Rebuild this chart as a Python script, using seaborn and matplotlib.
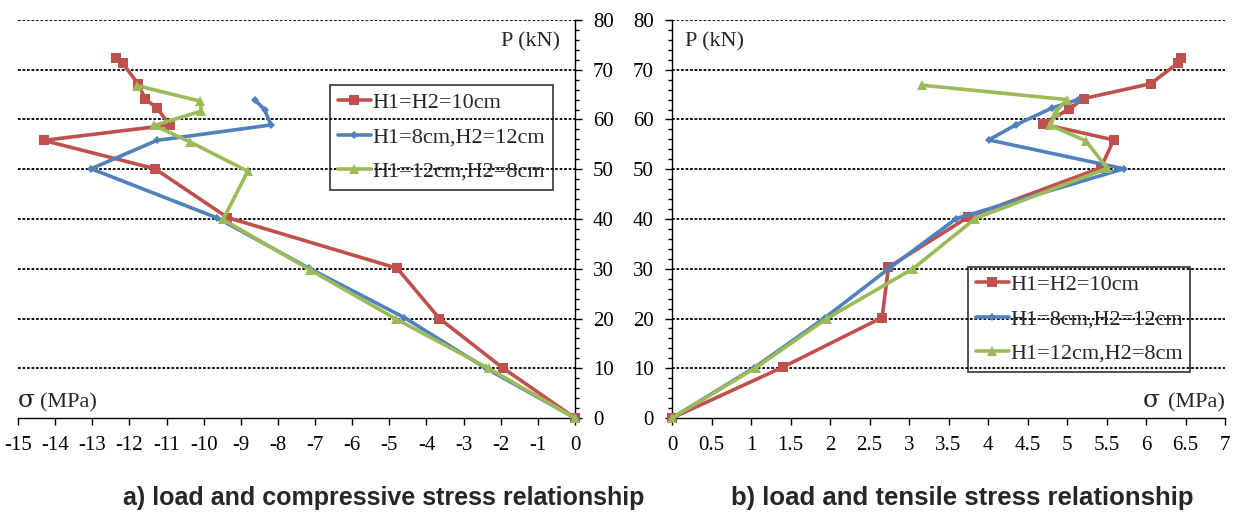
import numpy as np
import pandas as pd
import matplotlib
matplotlib.use("Agg")
import matplotlib.pyplot as plt
import seaborn as sns
from matplotlib.ticker import MultipleLocator, FormatStrFormatter

# ============================================
# DATA
# ============================================
labels = ["H1=H2=10cm", "H1=8cm,H2=12cm", "H1=12cm,H2=8cm"]

# a) compressive stress (MPa) vs load (kN)
comp_red_x = [0, -1.95, -3.65, -4.79, -9.36, -11.31, -14.31, -10.91, -11.26, -11.57, -11.77, -12.18, -12.37]
comp_red_y = [0, 10.1, 20.0, 30.1, 40.3, 50.1, 55.8, 58.9, 62.3, 64.1, 67.2, 71.3, 72.3]
comp_blue_x = [0, -2.4, -4.6, -7.16, -9.63, -13.03, -11.26, -8.19, -8.36, -8.62]
comp_blue_y = [0, 10.0, 20.2, 30.1, 40.2, 50.1, 55.8, 58.9, 62.0, 63.9]
comp_green_x = [0, -2.32, -4.82, -7.14, -9.48, -8.81, -10.37, -11.33, -10.06, -10.1, -11.79]
comp_green_y = [0, 9.95, 19.9, 29.8, 39.9, 49.6, 55.5, 58.8, 61.7, 63.7, 66.8]

# b) tensile stress (MPa) vs load (kN)
tens_red_x = [0, 1.4, 2.66, 2.74, 3.75, 5.43, 5.59, 4.69, 5.03, 5.21, 6.06, 6.41, 6.44]
tens_red_y = [0, 10.2, 20.2, 30.3, 40.4, 50.3, 55.9, 59.1, 62.1, 64.2, 67.2, 71.4, 72.3]
tens_blue_x = [0, 1.04, 1.94, 2.75, 3.6, 5.72, 4.01, 4.35, 4.81, 5.14]
tens_blue_y = [0, 10.1, 20.2, 30.1, 40.1, 50.1, 55.9, 58.9, 62.3, 64.0]
tens_green_x = [0, 1.06, 1.96, 3.05, 3.84, 5.51, 5.24, 4.79, 4.86, 5.0, 3.16]
tens_green_y = [0, 10.1, 20.0, 30.0, 40.1, 50.2, 55.7, 58.8, 61.6, 64.0, 66.9]

colors = ["#C0504D", "#4F81BD", "#9BBB59"]
markers = ["s", "D", "^"]
msizes = [9, 5, 9]

# ============================================
# STYLE
# ============================================
sns.set_theme(style="white")
plt.rcParams["font.family"] = ["Liberation Serif", "DejaVu Serif"]
plt.rcParams["axes.unicode_minus"] = False

fig = plt.figure(figsize=(12.42, 5.16), dpi=100)
ax1 = fig.add_axes([18 / 1242, 1 - 418 / 516, 557 / 1242, 398 / 516])
ax2 = fig.add_axes([672 / 1242, 1 - 418 / 516, 553 / 1242, 398 / 516])


def draw_panel(ax, xs, ys):
    for i in range(3):
        sns.lineplot(x=xs[i], y=ys[i], ax=ax, sort=False, estimator=None,
                     color=colors[i], lw=2.6, marker=markers[i],
                     markersize=msizes[i], markeredgewidth=0,
                     label=labels[i], clip_on=False, zorder=3 + i)
    ax.set_ylim(0, 80)
    ax.yaxis.set_major_locator(MultipleLocator(10))
    ax.yaxis.set_minor_locator(MultipleLocator(2))
    for yv in range(10, 90, 10):
        ax.axhline(yv, color="black", lw=1.3, ls=(0, (1.5, 1)), zorder=1)
    ax.set_xlabel("")
    ax.set_ylabel("")
    ax.set_facecolor("none")
    ax.tick_params(axis="both", labelsize=15, colors="black", length=5, width=1)
    ax.tick_params(axis="y", which="minor", length=3, width=1, colors="black")
    for sp in ax.spines.values():
        sp.set_color("black")
        sp.set_linewidth(1)


def add_legend(ax, anchor):
    h, l = ax.get_legend_handles_labels()
    for hd in h:
        hd.set_markersize(hd.get_markersize() * 0.75)
    leg = ax.legend(h, l, loc="upper left", bbox_to_anchor=anchor, fontsize=16,
                    frameon=True, fancybox=False, edgecolor="black",
                    handlelength=1.5, handletextpad=0.05, borderpad=0.35,
                    borderaxespad=0, labelspacing=0.62)
    leg.get_frame().set_facecolor("none")
    leg.get_frame().set_linewidth(1.2)


# ============================================
# a) COMPRESSIVE
# ============================================
draw_panel(ax1, [comp_red_x, comp_blue_x, comp_green_x],
           [comp_red_y, comp_blue_y, comp_green_y])
ax1.set_xlim(-15, 0)
ax1.xaxis.set_major_locator(MultipleLocator(1))
ax1.yaxis.tick_right()
ax1.spines["left"].set_visible(False)
ax1.spines["top"].set_visible(False)
ax1.tick_params(axis="y", which="both", direction="out", left=False, right=True, pad=8)
ax1.tick_params(axis="x", direction="out", bottom=True, pad=8)
ax1.text(-0.4, 77.5, "P (kN)", ha="right", va="top", fontsize=16)
ax1.text(-15, 1.2, "σ", ha="left", va="bottom", fontsize=18, family="DejaVu Serif")
ax1.text(-14.42, 1.2, "(MPa)", ha="left", va="bottom", fontsize=16)
add_legend(ax1, (0.56, 0.837))

# ============================================
# b) TENSILE
# ============================================
draw_panel(ax2, [tens_red_x, tens_blue_x, tens_green_x],
           [tens_red_y, tens_blue_y, tens_green_y])
ax2.set_xlim(0, 7)
ax2.xaxis.set_major_locator(MultipleLocator(0.5))
ax2.xaxis.set_major_formatter(FormatStrFormatter("%g"))
ax2.spines["right"].set_visible(False)
ax2.spines["top"].set_visible(False)
ax2.tick_params(axis="y", which="both", direction="out", left=True, pad=8)
ax2.tick_params(axis="x", direction="out", bottom=True, pad=8)
ax2.text(0.16, 77.5, "P (kN)", ha="left", va="top", fontsize=16)
ax2.text(6.17, 1.2, "σ", ha="right", va="bottom", fontsize=18, family="DejaVu Serif")
ax2.text(7.0, 1.2, "(MPa)", ha="right", va="bottom", fontsize=16)
add_legend(ax2, (0.535, 0.38))

# ============================================
# CAPTIONS
# ============================================
fig.text(384 / 1242, 1 - 498 / 516, "a) load and compressive stress relationship",
         ha="center", va="center", fontsize=18, fontweight="bold",
         family=["Liberation Sans", "DejaVu Sans"])
fig.text(962 / 1242, 1 - 498 / 516, "b) load and tensile stress relationship",
         ha="center", va="center", fontsize=18.5, fontweight="bold",
         family=["Liberation Sans", "DejaVu Sans"])

plt.savefig("out.png", dpi=100)
